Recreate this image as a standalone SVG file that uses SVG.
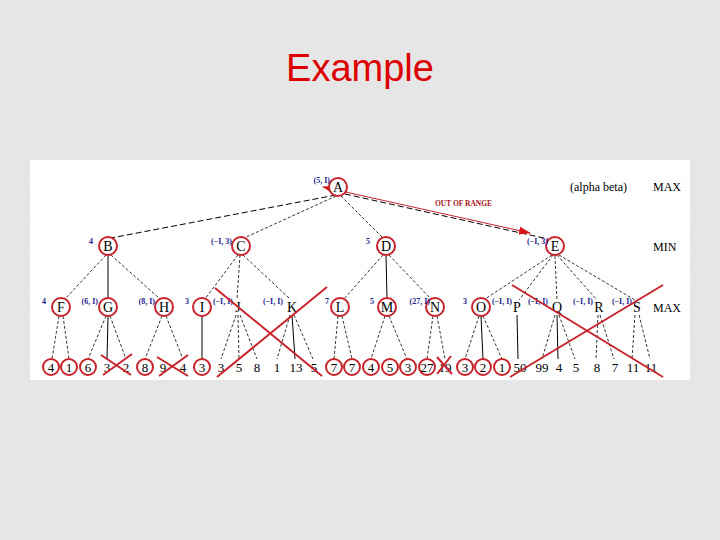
<svg xmlns="http://www.w3.org/2000/svg" width="720" height="540" viewBox="0 0 720 540">
<defs>
<filter id="grain" x="0" y="0" width="100%" height="100%">
<feTurbulence type="fractalNoise" baseFrequency="0.9" numOctaves="2" seed="3" result="n"/>
<feColorMatrix in="n" type="matrix" values="0 0 0 0 0.55  0 0 0 0 0.55  0 0 0 0 0.55  0 0 0 0.3 0"/>
<feComposite in2="SourceGraphic" operator="in"/>
</filter>
<marker id="ah" viewBox="0 0 12 8" refX="11" refY="4" markerWidth="12" markerHeight="8" markerUnits="userSpaceOnUse" orient="auto-start-reverse">
<path d="M0,0 L12,4 L0,8 z" fill="#d4161c"/>
</marker>
<style>
.e{stroke:#000;stroke-width:0.8;fill:none;stroke-dasharray:3 2}
.el{stroke:#000;stroke-width:1;fill:none;stroke-dasharray:6 3}
.s{stroke:#000;stroke-width:1;fill:none}
.c{fill:#fff;stroke:#c8232a;stroke-width:2}
.x{stroke:#c8232a;stroke-width:2;fill:none}
.t{font-family:"Liberation Serif",serif;font-size:14px;fill:#000;text-anchor:middle}
.lf{font-family:"Liberation Serif",serif;font-size:13px;fill:#000;text-anchor:middle}
.ab{font-family:"Liberation Serif",serif;font-size:8px;font-weight:bold;fill:#1c1c8c;text-anchor:end}
.lv{font-family:"Liberation Serif",serif;font-size:12px;fill:#000}
</style>
</defs>
<rect width="720" height="540" fill="#ececec"/>
<rect width="720" height="540" fill="#ececec" filter="url(#grain)"/>
<text x="360" y="81" font-family="Liberation Sans, Arial, sans-serif" font-size="38" fill="#dd0000" text-anchor="middle">Example</text>
<rect x="30" y="160" width="660" height="220" fill="#fff"/>

<g id="connectors">
<line class="el" x1="336" y1="195" x2="111" y2="238"/>
<line class="e" x1="336" y1="196" x2="244" y2="238"/>
<line class="e" x1="341" y1="196" x2="383" y2="238"/>
<line class="el" x1="345" y1="194" x2="548" y2="239"/>
<line x1="323" y1="187" x2="530" y2="233" stroke="#c8232a" stroke-width="1" marker-start="url(#ah)" marker-end="url(#ah)"/>
<line class="e" x1="106" y1="255" x2="65" y2="299"/>
<line class="s" x1="108" y1="255" x2="108" y2="298"/>
<line class="e" x1="111" y1="255" x2="160" y2="299"/>
<line class="e" x1="238" y1="255" x2="205" y2="299"/>
<line class="e" x1="240" y1="255" x2="237" y2="299"/>
<line class="e" x1="243" y1="255" x2="290" y2="299"/>
<line class="e" x1="383" y1="255" x2="344" y2="299"/>
<line class="s" x1="386" y1="256" x2="387" y2="298"/>
<line class="e" x1="389" y1="255" x2="431" y2="299"/>
<line class="e" x1="552" y1="255" x2="485" y2="299"/>
<line class="e" x1="553" y1="255" x2="519" y2="300"/>
<line class="e" x1="555" y1="256" x2="557" y2="300"/>
<line class="e" x1="557" y1="255" x2="597" y2="300"/>
<line class="e" x1="559" y1="255" x2="635" y2="300"/>
<line class="e" x1="59" y1="316" x2="52" y2="359"/>
<line class="e" x1="63" y1="316" x2="69" y2="359"/>
<line class="e" x1="106" y1="316" x2="88" y2="359"/>
<line class="s" x1="108" y1="316" x2="107" y2="359"/>
<line class="e" x1="110" y1="316" x2="126" y2="359"/>
<line class="e" x1="162" y1="316" x2="145" y2="359"/>
<line class="e" x1="166" y1="316" x2="183" y2="359"/>
<line class="s" x1="202" y1="316" x2="202" y2="359"/>
<line class="e" x1="236" y1="315" x2="221" y2="359"/>
<line class="e" x1="238" y1="315" x2="239" y2="359"/>
<line class="e" x1="240" y1="315" x2="257" y2="359"/>
<line class="e" x1="290" y1="315" x2="277" y2="359"/>
<line class="s" x1="292" y1="315" x2="295" y2="359"/>
<line class="e" x1="294" y1="315" x2="313" y2="359"/>
<line class="e" x1="338" y1="316" x2="334" y2="359"/>
<line class="e" x1="342" y1="316" x2="352" y2="359"/>
<line class="e" x1="385" y1="316" x2="371" y2="359"/>
<line class="e" x1="389" y1="316" x2="407" y2="359"/>
<line class="e" x1="433" y1="316" x2="427" y2="359"/>
<line class="e" x1="437" y1="316" x2="445" y2="359"/>
<line class="e" x1="479" y1="316" x2="465" y2="359"/>
<line class="s" x1="481" y1="316" x2="483" y2="359"/>
<line class="e" x1="483" y1="316" x2="502" y2="359"/>
<line class="s" x1="517" y1="315" x2="518" y2="359"/>
<line class="e" x1="555" y1="315" x2="542" y2="359"/>
<line class="s" x1="557" y1="315" x2="558" y2="359"/>
<line class="e" x1="559" y1="315" x2="575" y2="359"/>
<line class="e" x1="598" y1="315" x2="596" y2="359"/>
<line class="e" x1="600" y1="315" x2="614" y2="359"/>
<line class="e" x1="635" y1="315" x2="632" y2="359"/>
<line class="e" x1="639" y1="315" x2="650" y2="359"/>
</g>

<g id="A"><circle class="c" cx="338" cy="187" r="9"/><text class="t" x="338" y="192">A</text><text class="ab" x="330" y="183">(5, I)</text></g>
<g id="B"><circle class="c" cx="108" cy="246" r="9"/><text class="t" x="108" y="251">B</text><text class="ab" x="93" y="244">4</text></g>
<g id="C"><circle class="c" cx="241" cy="246" r="9"/><text class="t" x="241" y="251">C</text><text class="ab" x="232" y="244">(−I, 3)</text></g>
<g id="D"><circle class="c" cx="386" cy="246" r="9"/><text class="t" x="386" y="251">D</text><text class="ab" x="370" y="244">5</text></g>
<g id="E"><circle class="c" cx="555" cy="246" r="9"/><text class="t" x="555" y="251">E</text><text class="ab" x="548" y="244">(−I, 3)</text></g>

<g id="F"><circle class="c" cx="61" cy="307" r="9"/><text class="t" x="61" y="312">F</text><text class="ab" x="46" y="304">4</text></g>
<g id="G"><circle class="c" cx="108" cy="307" r="9"/><text class="t" x="108" y="312">G</text><text class="ab" x="98" y="304">(6, I)</text></g>
<g id="H"><circle class="c" cx="164" cy="307" r="9"/><text class="t" x="164" y="312">H</text><text class="ab" x="155" y="304">(8, I)</text></g>
<g id="I"><circle class="c" cx="202" cy="307" r="9"/><text class="t" x="202" y="312">I</text><text class="ab" x="189" y="304">3</text></g>
<g id="J"><text class="t" x="238" y="312">J</text><text class="ab" x="233" y="304">(−I, I)</text></g>
<g id="K"><text class="t" x="292" y="312">K</text><text class="ab" x="283" y="304">(−I, I)</text></g>
<g id="L"><circle class="c" cx="340" cy="307" r="9"/><text class="t" x="340" y="312">L</text><text class="ab" x="329" y="304">7</text></g>
<g id="M"><circle class="c" cx="387" cy="307" r="9"/><text class="t" x="387" y="312">M</text><text class="ab" x="374" y="304">5</text></g>
<g id="N"><circle class="c" cx="435" cy="307" r="9"/><text class="t" x="435" y="312">N</text><text class="ab" x="430" y="304">(27, I)</text></g>
<g id="O"><circle class="c" cx="481" cy="307" r="9"/><text class="t" x="481" y="312">O</text><text class="ab" x="467" y="304">3</text></g>
<g id="P"><text class="t" x="517" y="312">P</text><text class="ab" x="512" y="304">(−I, I)</text></g>
<g id="Q"><text class="t" x="557" y="312">Q</text><text class="ab" x="548" y="304">(−I, I)</text></g>
<g id="R"><text class="t" x="599" y="312">R</text><text class="ab" x="593" y="304">(−I, I)</text></g>
<g id="S"><text class="t" x="637" y="312">S</text><text class="ab" x="632" y="304">(−I, I)</text></g>

<g id="leaves">
<circle class="c" cx="51" cy="367" r="8"/><text class="lf" x="51" y="372">4</text>
<circle class="c" cx="69" cy="367" r="8"/><text class="lf" x="69" y="372">1</text>
<circle class="c" cx="88" cy="367" r="8"/><text class="lf" x="88" y="372">6</text>
<text class="lf" x="107" y="372">3</text>
<text class="lf" x="126" y="372">2</text>
<circle class="c" cx="145" cy="367" r="8"/><text class="lf" x="145" y="372">8</text>
<text class="lf" x="163" y="372">9</text>
<text class="lf" x="183" y="372">4</text>
<circle class="c" cx="202" cy="367" r="8"/><text class="lf" x="202" y="372">3</text>
<text class="lf" x="221" y="372">3</text>
<text class="lf" x="239" y="372">5</text>
<text class="lf" x="257" y="372">8</text>
<text class="lf" x="277" y="372">1</text>
<text class="lf" x="296" y="372">13</text>
<text class="lf" x="314" y="372">5</text>
<circle class="c" cx="334" cy="367" r="8"/><text class="lf" x="334" y="372">7</text>
<circle class="c" cx="352" cy="367" r="8"/><text class="lf" x="352" y="372">7</text>
<circle class="c" cx="371" cy="367" r="8"/><text class="lf" x="371" y="372">4</text>
<circle class="c" cx="390" cy="367" r="8"/><text class="lf" x="390" y="372">5</text>
<circle class="c" cx="408" cy="367" r="8"/><text class="lf" x="408" y="372">3</text>
<circle class="c" cx="427" cy="367" r="8"/><text class="lf" x="427" y="372">27</text>
<text class="lf" x="445" y="372">19</text>
<circle class="c" cx="465" cy="367" r="8"/><text class="lf" x="465" y="372">3</text>
<circle class="c" cx="483" cy="367" r="8"/><text class="lf" x="483" y="372">2</text>
<circle class="c" cx="502" cy="367" r="8"/><text class="lf" x="502" y="372">1</text>
<text class="lf" x="520" y="372">50</text>
<text class="lf" x="542" y="372">99</text>
<text class="lf" x="559" y="372">4</text>
<text class="lf" x="576" y="372">5</text>
<text class="lf" x="597" y="372">8</text>
<text class="lf" x="615" y="372">7</text>
<text class="lf" x="633" y="372">11</text>
<text class="lf" x="651" y="372">11</text>
</g>

<g id="cuts">
<line class="x" x1="101" y1="355" x2="131" y2="375"/>
<line class="x" x1="103" y1="375" x2="132" y2="354"/>
<line class="x" x1="157" y1="357" x2="188" y2="376"/>
<line class="x" x1="159" y1="376" x2="188" y2="355"/>
<line class="x" x1="437" y1="357" x2="452" y2="374"/>
<line class="x" x1="437" y1="374" x2="451" y2="356"/>
<line class="x" x1="215" y1="288" x2="322" y2="376"/>
<line class="x" x1="327" y1="287" x2="217" y2="377"/>
<line class="x" x1="512" y1="285" x2="663" y2="377"/>
<line class="x" x1="663" y1="285" x2="510" y2="377"/>
</g>

<g id="legend">
<text class="lv" x="570" y="191" font-size="13" fill="#1c1c8c">(alpha beta)</text>
<text class="lv" x="653" y="191">MAX</text>
<text class="lv" x="653" y="251">MIN</text>
<text class="lv" x="653" y="312">MAX</text>
<text x="435" y="206" font-family="Liberation Serif, serif" font-size="7.5" font-weight="bold" fill="#a8141c">OUT OF RANGE</text>
</g>
</svg>
